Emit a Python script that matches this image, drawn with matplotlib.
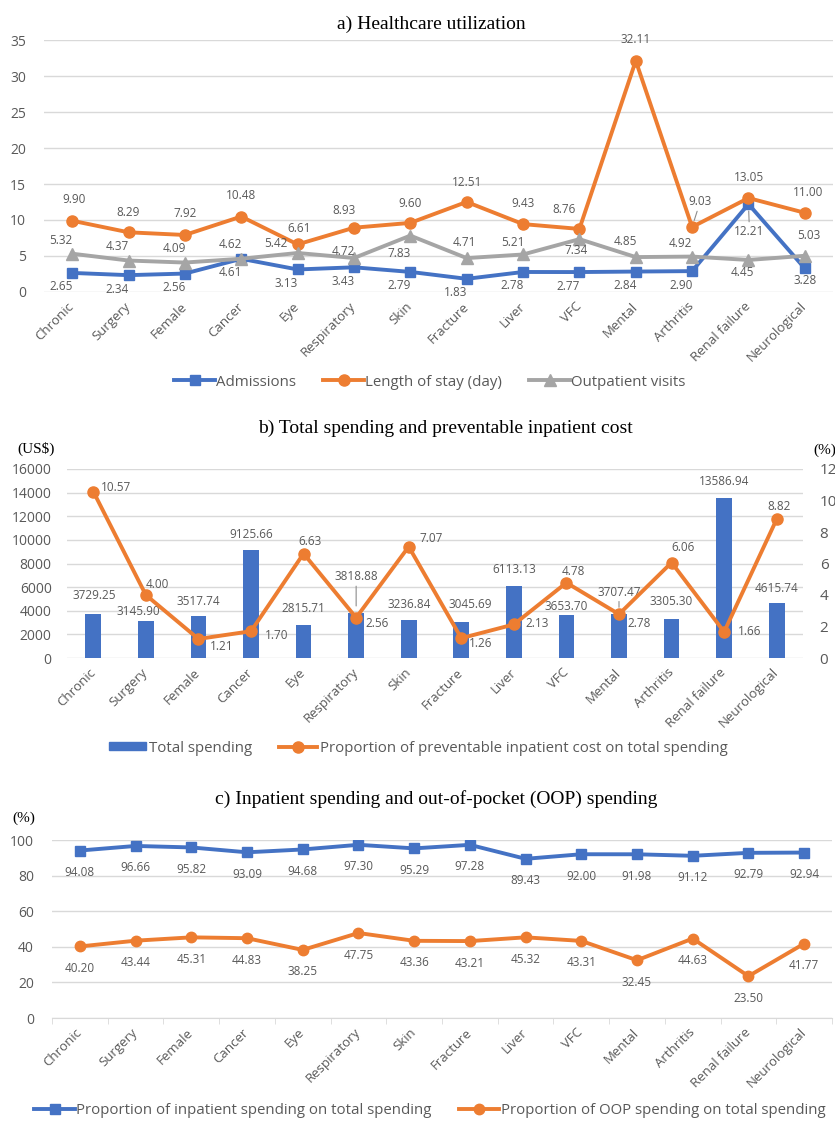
import numpy as np
import matplotlib.pyplot as plt
from matplotlib.lines import Line2D
from matplotlib.patches import Patch

plt.rcParams['font.family'] = ['Open Sans', 'DejaVu Sans']

categories = ['Chronic', 'Surgery', 'Female', 'Cancer', 'Eye', 'Respiratory', 'Skin',
              'Fracture', 'Liver', 'VFC', 'Mental', 'Arthritis', 'Renal failure', 'Neurological']

# a) healthcare utilization
admissions = [2.65, 2.34, 2.56, 4.61, 3.13, 3.43, 2.79, 1.83, 2.78, 2.77, 2.84, 2.90, 12.21, 3.28]
length_of_stay = [9.90, 8.29, 7.92, 10.48, 6.61, 8.93, 9.60, 12.51, 9.43, 8.76, 32.11, 9.03, 13.05, 11.00]
outpatient_visits = [5.32, 4.37, 4.09, 4.62, 5.42, 4.72, 7.83, 4.71, 5.21, 7.34, 4.85, 4.92, 4.45, 5.03]

# b) spending (US$) and preventable share (%)
total_spending = [3729.25, 3145.90, 3517.74, 9125.66, 2815.71, 3818.88, 3236.84,
                  3045.69, 6113.13, 3653.70, 3707.47, 3305.30, 13586.94, 4615.74]
preventable_share = [10.57, 4.00, 1.21, 1.70, 6.63, 2.56, 7.07, 1.26, 2.13, 4.78, 2.78, 6.06, 1.66, 8.82]

# c) inpatient and OOP shares (%)
inpatient_share = [94.08, 96.66, 95.82, 93.09, 94.68, 97.30, 95.29, 97.28, 89.43, 92.00, 91.98, 91.12, 92.79, 92.94]
oop_share = [40.20, 43.44, 45.31, 44.83, 38.25, 47.75, 43.36, 43.21, 45.32, 43.31, 32.45, 44.63, 23.50, 41.77]

# label offsets in pixels (dx, dy), dy up
adm_off = [(-11, -14)] * 12 + [(1, -27), (0, -12)]
los_off = [(2, 21), (0, 20), (0, 21), (0, 21), (2, 16), (-10, 17), (0, 19),
           (0, 19), (0, 21), (-15, 19), (0, 21), (8, 25), (0, 21), (3, 20)]
out_off = [(-11, 13), (-11, 14), (-11, 14), (-11, 14), (-22, 9), (-11, 7), (-11, -18),
           (-2, 16), (-10, 12), (-3, -11), (-10, 16), (-12, 13), (-6, -13), (4, 20)]
bar_off = [(1, 18), (-8, 9), (0, 15), (0, 16), (0, 16), (0, 36), (0, 15),
           (9, 18), (0, 16), (0, 8), (0, 22), (0, 17), (0, 16), (0, 15)]
prev_off = [(23, 4), (12, 11), (23, -8), (26, -4), (6, 12), (21, -6), (22, 8),
            (19, -5), (23, 1), (7, 11), (20, -9), (11, 15), (25, 0), (2, 13)]
leaders_a = {('adm', 12), ('los', 11)}
leaders_b = {5, 10}

BLUE = '#4472C4'
ORANGE = '#ED7D31'
GREY = '#A5A5A5'
TXT = '#595959'
GRID = '#D9D9D9'

W, H = 835, 1121
fig = plt.figure(figsize=(W / 100, H / 100), dpi=100)
x = np.arange(len(categories))


def px_axes(left, top, right, bottom):
    return fig.add_axes([left / W, 1 - bottom / H, (right - left) / W, (bottom - top) / H])


def style(ax, ypad):
    for s in ax.spines.values():
        s.set_visible(False)
    ax.grid(axis='y', color=GRID, lw=1)
    ax.set_axisbelow(True)
    ax.set_xlim(-0.5, len(categories) - 0.5)
    ax.tick_params(axis='y', length=0, colors=TXT, labelsize=10, pad=ypad)
    ax.set_xticks(x)
    ax.set_xticklabels(categories, rotation=45, ha='right', va='center',
                       rotation_mode='anchor', fontsize=9.5, color=TXT)
    ax.tick_params(axis='x', length=0, pad=9)


def label(ax, xv, yv, text, off, leader=False):
    arrow = None
    if leader:
        arrow = dict(arrowstyle='-', color='#8C8C8C', lw=0.8, shrinkA=0, shrinkB=5)
    ax.annotate(text, (xv, yv), xytext=(off[0] * 0.72, off[1] * 0.72), textcoords='offset points',
                ha='center', va='center', fontsize=8.5, color=TXT, arrowprops=arrow, zorder=5)


def title(cx, cy, text):
    fig.text(cx / W, 1 - cy / H, text, ha='center', va='center', fontsize=14,
             family='Liberation Serif')


# ---------- a) ----------
ax = px_axes(44, 40, 833, 292)
style(ax, 13)
ax.set_ylim(0, 35)
ax.set_yticks(range(0, 36, 5))
ax.plot(x, admissions, color=BLUE, lw=2.8, marker='s', ms=7.5, zorder=3)
ax.plot(x, length_of_stay, color=ORANGE, lw=2.8, marker='o', ms=8, zorder=3)
ax.plot(x, outpatient_visits, color=GREY, lw=2.8, marker='^', ms=8, zorder=3)
for i in range(len(categories)):
    label(ax, i, admissions[i], '%.2f' % admissions[i], adm_off[i], ('adm', i) in leaders_a)
    label(ax, i, length_of_stay[i], '%.2f' % length_of_stay[i], los_off[i], ('los', i) in leaders_a)
    label(ax, i, outpatient_visits[i], '%.2f' % outpatient_visits[i], out_off[i])
title(431, 24, 'a) Healthcare utilization')
h = [Line2D([], [], color=BLUE, lw=2.8, marker='s', ms=7.5),
     Line2D([], [], color=ORANGE, lw=2.8, marker='o', ms=8),
     Line2D([], [], color=GREY, lw=2.8, marker='^', ms=8)]
fig.legend(h, ['Admissions', 'Length of stay (day)', 'Outpatient visits'], loc='center',
           bbox_to_anchor=(430 / W, 1 - 382 / H), ncol=3, frameon=False, fontsize=10.8,
           handlelength=2.7, handletextpad=0.1, columnspacing=1.8, labelcolor=TXT)

# ---------- b) ----------
ax = px_axes(67, 469, 803, 658)
style(ax, 11)
ax.set_ylim(0, 16000)
ax.set_yticks(range(0, 16001, 2000))
ax.bar(x, total_spending, width=0.3, color=BLUE, zorder=2)
for i, v in enumerate(total_spending):
    label(ax, i, v, '%.2f' % v, bar_off[i], i in leaders_b)
ax2 = ax.twinx()
for s in ax2.spines.values():
    s.set_visible(False)
ax2.set_ylim(0, 12)
ax2.set_yticks(range(0, 13, 2))
ax2.tick_params(axis='y', length=0, colors=TXT, labelsize=11, pad=12)
ax2.plot(x, preventable_share, color=ORANGE, lw=2.8, marker='o', ms=8, zorder=3)
for i, v in enumerate(preventable_share):
    label(ax2, i, v, '%.2f' % v, prev_off[i])
title(445, 428, 'b) Total spending and preventable inpatient cost')
fig.text(36 / W, 1 - 449 / H, '(US$)', ha='center', va='center', fontsize=11, family='Liberation Serif')
fig.text(813 / W, 1 - 450 / H, '(%)', ha='left', va='center', fontsize=11, family='Liberation Serif')
h = [Patch(color=BLUE), Line2D([], [], color=ORANGE, lw=2.8, marker='o', ms=8)]
fig.legend(h, ['Total spending', 'Proportion of preventable inpatient cost on total spending'],
           loc='center', bbox_to_anchor=(418 / W, 1 - 748 / H), ncol=2, frameon=False, fontsize=10.8,
           handlelength=2.5, handleheight=0.5, handletextpad=0.2, columnspacing=1.8, labelcolor=TXT)

# ---------- c) ----------
ax = px_axes(52, 840, 832, 1018)
style(ax, 13)
ax.set_ylim(0, 100)
ax.set_yticks(range(0, 101, 20))
ax.spines['bottom'].set_visible(True)
ax.spines['bottom'].set_color(GRID)
ax.set_xticks(np.arange(-0.5, len(categories)), minor=True)
ax.tick_params(axis='x', which='minor', length=4, color=GRID)
ax.plot(x, inpatient_share, color=BLUE, lw=2.8, marker='s', ms=7, zorder=3)
ax.plot(x, oop_share, color=ORANGE, lw=2.8, marker='o', ms=7.5, zorder=3)
for i in range(len(categories)):
    label(ax, i, inpatient_share[i], '%.2f' % inpatient_share[i], (0, -22))
    label(ax, i, oop_share[i], '%.2f' % oop_share[i], (0, -22))
title(436, 799, 'c) Inpatient spending and out-of-pocket (OOP) spending')
fig.text(24 / W, 1 - 818 / H, '(%)', ha='center', va='center', fontsize=11, family='Liberation Serif')
h = [Line2D([], [], color=BLUE, lw=2.8, marker='s', ms=7),
     Line2D([], [], color=ORANGE, lw=2.8, marker='o', ms=7.5)]
fig.legend(h, ['Proportion of inpatient spending on total spending',
               'Proportion of OOP spending on total spending'],
           loc='center', bbox_to_anchor=(430 / W, 1 - 1111 / H), ncol=2, frameon=False, fontsize=10.8,
           handlelength=2.7, handletextpad=0.1, columnspacing=1.8, labelcolor=TXT)

fig.savefig('out.png', dpi=100)
